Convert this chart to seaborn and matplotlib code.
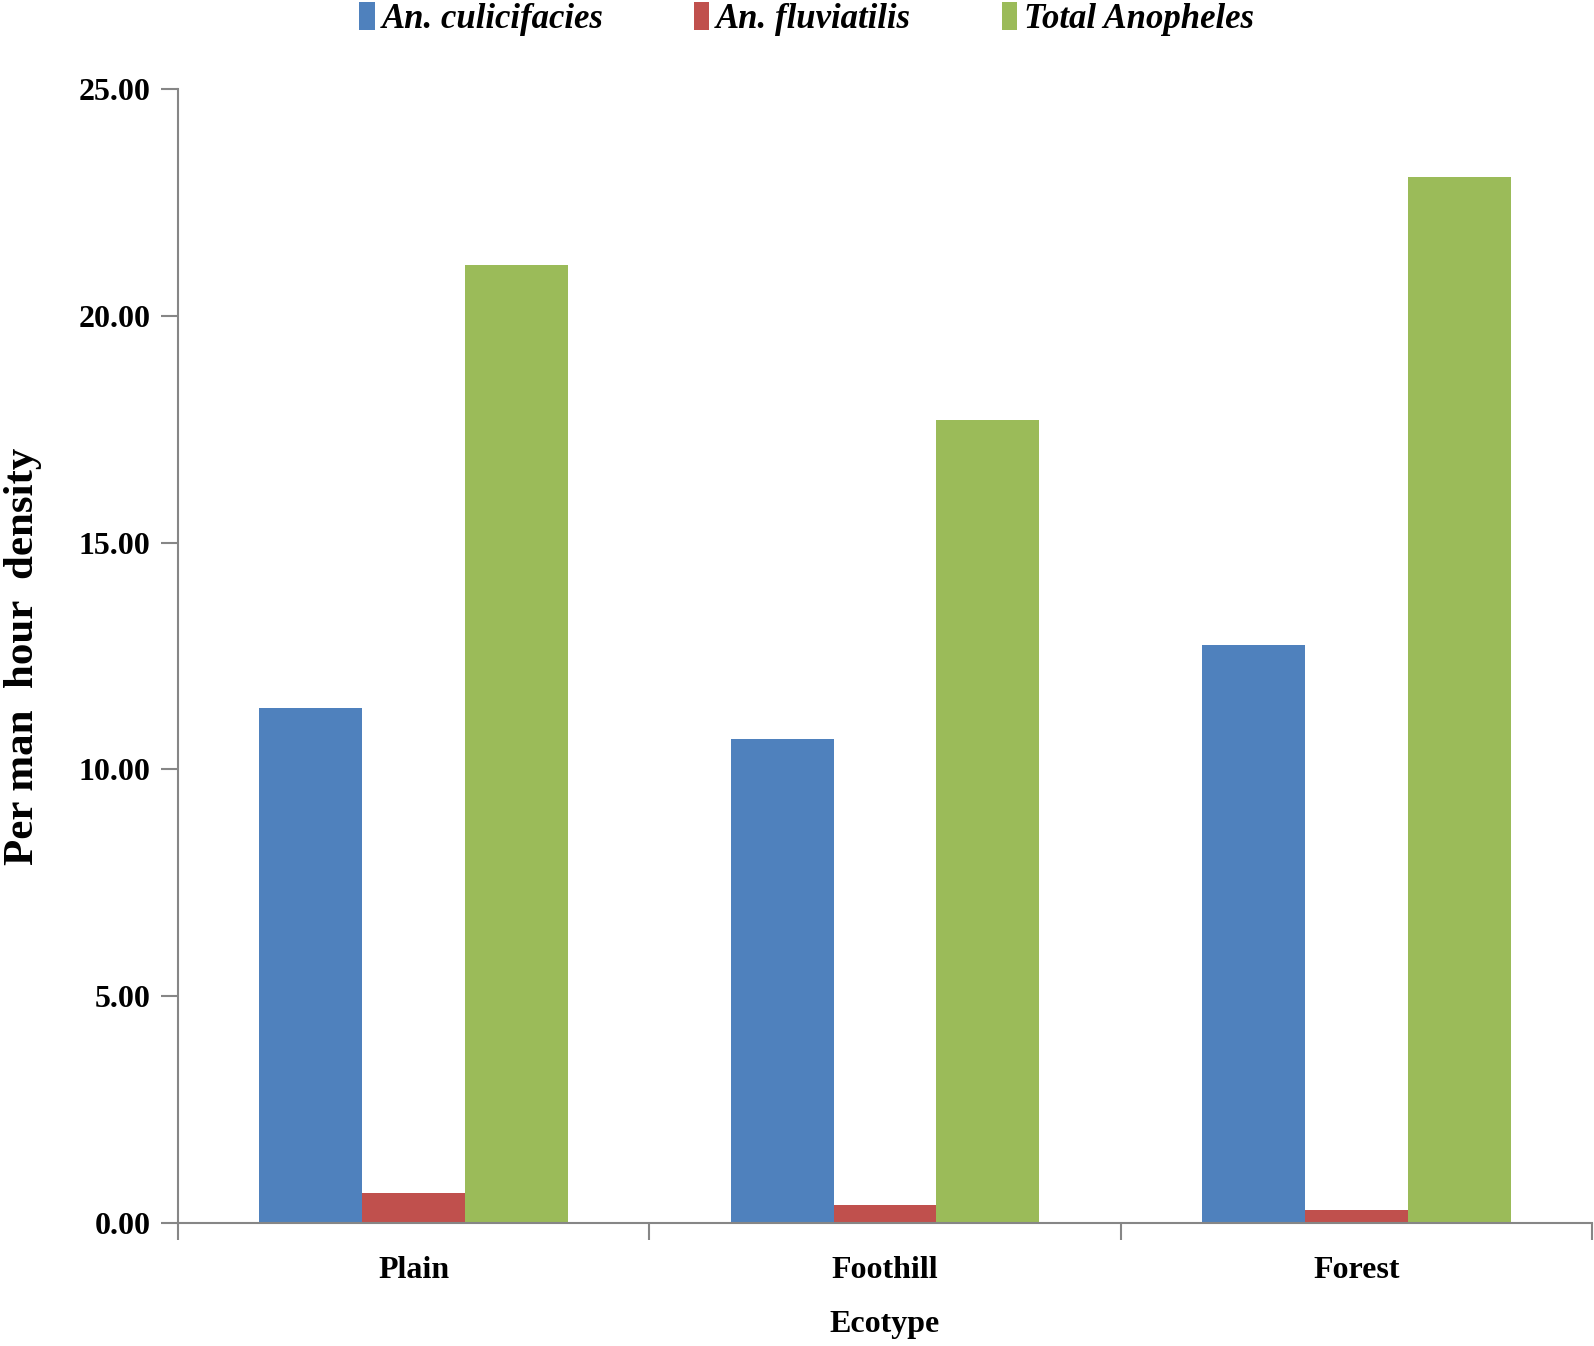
import numpy as np
import pandas as pd
import matplotlib
matplotlib.use('Agg')
import matplotlib.pyplot as plt
import seaborn as sns
from matplotlib.patches import Patch

# Data
ecotypes = ['Plain', 'Foothill', 'Forest']
species = ['An. culicifacies', 'An. fluviatilis', 'Total Anopheles']
culicifacies = [11.36, 10.66, 12.75]
fluviatilis = [0.65, 0.40, 0.29]
total_anopheles = [21.12, 17.70, 23.07]
yticks = [0, 5, 10, 15, 20, 25]
colors = ['#4F81BD', '#C0504D', '#9BBB59']

df = pd.DataFrame({
    'Ecotype': ecotypes * 3,
    'Species': [s for s in species for _ in ecotypes],
    'Density': culicifacies + fluviatilis + total_anopheles,
})

sns.set_theme(style='white')
plt.rcParams['font.family'] = ['Liberation Serif', 'DejaVu Serif']
plt.rcParams['text.color'] = 'black'
plt.rcParams['axes.labelcolor'] = 'black'
plt.rcParams['xtick.color'] = 'black'
plt.rcParams['ytick.color'] = 'black'

fig = plt.figure(figsize=(15.94, 13.46), dpi=100)
ax = fig.add_axes([0.1117, 0.0914, 0.887, 0.8425])

sns.barplot(data=df, x='Ecotype', y='Density', hue='Species', order=ecotypes,
            hue_order=species, palette=colors, width=0.655, saturation=1,
            linewidth=0, ax=ax, legend=False)

ax.set_xlim(-0.5, 2.5)
ax.set_ylim(0, 25)
ax.set_yticks(yticks)
ax.set_yticklabels([f'{v:.2f}' for v in yticks], fontsize=23, fontweight='bold')
ax.set_xticks(range(len(ecotypes)))
ax.set_xticklabels(ecotypes, fontsize=23, fontweight='bold')
ax.set_xticks([-0.5, 0.5, 1.5, 2.5], minor=True)
ax.tick_params(axis='x', which='major', length=0, pad=24, bottom=True)
ax.tick_params(axis='x', which='minor', length=12, width=1.5, color='#868686',
               direction='out', bottom=True)
ax.tick_params(axis='y', which='major', length=12, width=1.5, color='#868686',
               direction='out', pad=8, left=True)

for side in ['top', 'right']:
    ax.spines[side].set_visible(False)
for side in ['left', 'bottom']:
    ax.spines[side].set_color('#868686')
    ax.spines[side].set_linewidth(1.5)

ax.set_xlabel('Ecotype', fontsize=23, fontweight='bold', labelpad=18)
ax.set_ylabel('Per man  hour  density', fontsize=31, fontweight='bold', labelpad=26)

handles = [Patch(facecolor=c, edgecolor='none') for c in colors]
fig.legend(handles, species, loc='center', bbox_to_anchor=(0.506, 0.986), ncol=3,
           frameon=False, handlelength=0.45, handleheight=0.9, handletextpad=0.2,
           columnspacing=2.6, prop={'size': 25, 'weight': 'bold', 'style': 'italic'})

fig.savefig('out.png', dpi=100, facecolor='white')
